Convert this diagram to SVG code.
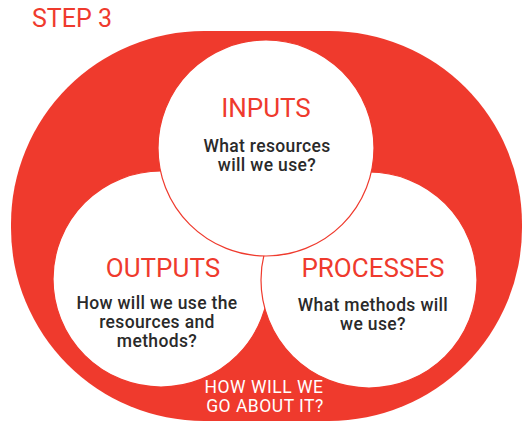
<svg xmlns="http://www.w3.org/2000/svg" width="523" height="423" viewBox="0 0 523 423">
<style>
.red{fill:#EF3A2D}
.circ{fill:#fff;stroke:#EF3A2D;stroke-width:1.2}
.title{font-family:Roboto,"Liberation Sans",sans-serif;font-size:26px;fill:#EF3A2D;text-anchor:middle}
.body{font-family:Roboto,"Liberation Sans",sans-serif;font-size:17.5px;font-weight:500;letter-spacing:0.35px;fill:#2a2a2a;text-anchor:middle}
.rev{font-family:Roboto,"Liberation Sans",sans-serif;font-size:17.5px;letter-spacing:0.5px;fill:#fff;text-anchor:middle}
</style>
<text x="72" y="27" class="title" style="font-size:25px">STEP 3</text>
<g id="frame">
<rect x="11" y="31" width="511" height="390" rx="193" ry="193" class="red"/>
<text class="rev"><tspan x="264" y="393">HOW WILL WE</tspan><tspan x="265" y="412">GO ABOUT IT?</tspan></text>
</g>
<g id="outputs">
<circle cx="161" cy="279" r="108" class="circ"/>
<text x="163" y="277" class="title">OUTPUTS</text>
<text class="body"><tspan x="157" y="309">How will we use the</tspan><tspan x="157" y="328">resources and</tspan><tspan x="157" y="347">methods?</tspan></text>
</g>
<g id="processes">
<circle cx="369" cy="280" r="108" class="circ"/>
<text x="373" y="277" class="title">PROCESSES</text>
<text class="body"><tspan x="373" y="311">What methods will</tspan><tspan x="373" y="330">we use?</tspan></text>
</g>
<g id="inputs">
<circle cx="266" cy="148" r="108" class="circ"/>
<text x="266" y="117" class="title">INPUTS</text>
<text class="body"><tspan x="267" y="152">What resources</tspan><tspan x="267" y="171">will we use?</tspan></text>
</g>
<g id="connectors"/>
</svg>
